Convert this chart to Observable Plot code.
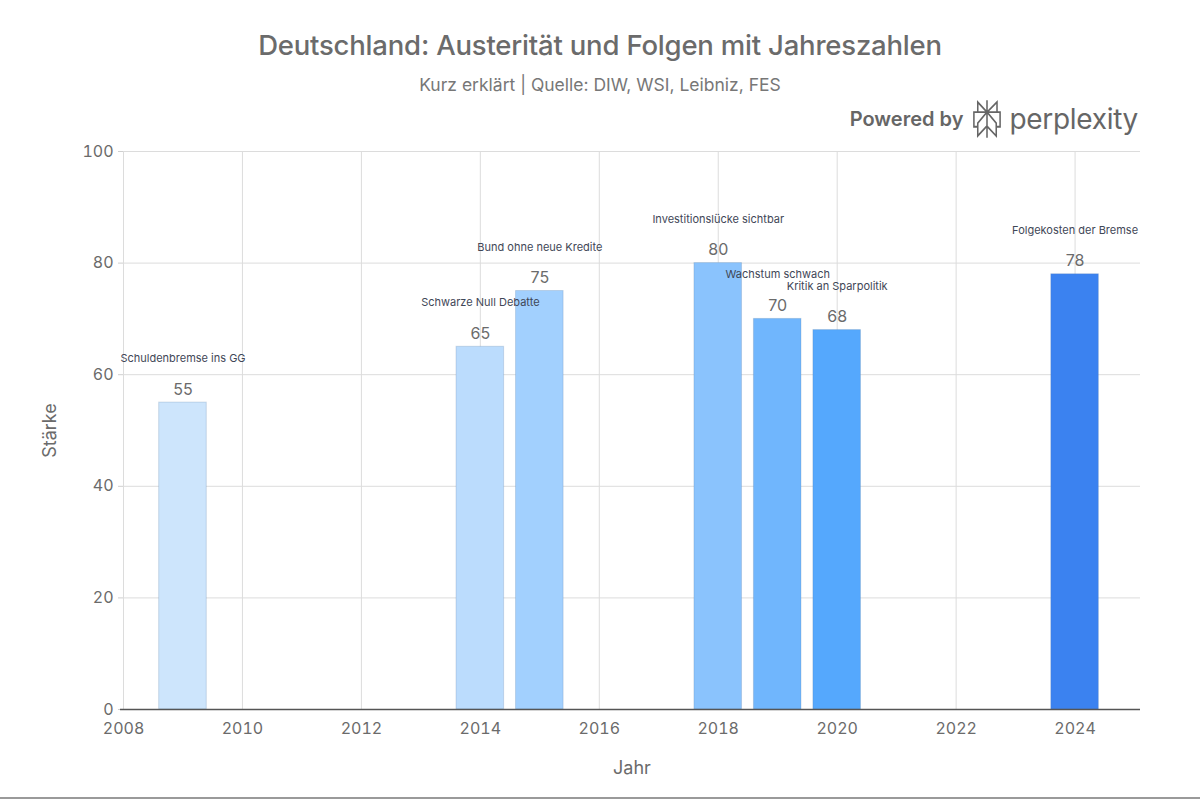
<!DOCTYPE html>
<html><head><meta charset="utf-8">
<script src="https://cdn.jsdelivr.net/npm/d3@7"></script>
<script src="https://cdn.jsdelivr.net/npm/@observablehq/plot@0.6"></script>
<style>
html,body{margin:0;padding:0;background:#fff;}
body{font-family:Inter,"Liberation Sans",sans-serif;}
#wrap{position:relative;width:1200px;height:800px;overflow:hidden;}
#chart{position:absolute;left:0;top:0;}
#title{position:absolute;top:28px;left:0;width:1200px;text-align:center;font-size:27.5px;font-weight:500;color:#6b6b6b;letter-spacing:-0.2px;}
#subtitle{position:absolute;top:74px;left:0;width:1200px;text-align:center;font-size:17.5px;color:#777;}
#powered{position:absolute;top:100px;right:62px;display:flex;align-items:center;color:#666;}
#powered .pb{font-size:20px;font-weight:600;margin-right:8px;}
#powered .px{font-size:28px;font-weight:400;margin-left:6px;letter-spacing:-0.3px;}
#bottomline{position:absolute;left:0;top:797px;width:1200px;height:2px;background:#9a9a9a;}
</style>
</head><body>
<div id="wrap">
  <div id="chart"></div>
  <div id="title">Deutschland: Austerität und Folgen mit Jahreszahlen</div>
  <div id="subtitle">Kurz erklärt | Quelle: DIW, WSI, Leibniz, FES</div>
  <div id="powered"><span class="pb">Powered by</span>
    <svg width="32" height="38" viewBox="0 0 24 24" preserveAspectRatio="none"><path fill="#666" d="M22.3977 7.0896h-2.3106V.0676l-7.5094 6.3542V.1577h-1.1554v6.1966L4.4904 0v7.0896H1.6023v10.3976h2.8882V24l6.932-6.3591v6.2005h1.1554v-6.0469l6.9318 6.1807v-6.4879h2.8882V7.0896zm-3.4657-4.531v4.531h-5.355l5.355-4.531zm-13.2862.0676 4.8691 4.4634H5.6458V2.6262zM2.7576 16.332V8.245h7.8476l-6.1149 6.1147v1.9723H2.7576zm2.8882 5.0404v-3.8852h.0001v-2.6488l5.7763-5.7764v7.0111l-5.7764 5.2993zm12.7086.0248-5.7766-5.1509V9.0618l5.7766 5.7766v6.5588zm2.8882-5.0652h-1.733v-1.9723L13.3948 8.245h7.8478v8.087z"/></svg>
    <span class="px">perplexity</span></div>
  <div id="bottomline"></div>
</div>
<script>
const years = [2009, 2014, 2015, 2018, 2019, 2020, 2024];
const values = [55, 65, 75, 80, 70, 68, 78];
const events = ["Schuldenbremse ins GG", "Schwarze Null Debatte", "Bund ohne neue Kredite", "Investitionslücke sichtbar", "Wachstum schwach", "Kritik an Sparpolitik", "Folgekosten der Bremse"];
const barColors = ["#cde5fc", "#bbdcfd", "#a2d0fe", "#8ac3fd", "#70b6fd", "#55a8fd", "#3b82f0"];
const xTicks = [2008, 2010, 2012, 2014, 2016, 2018, 2020, 2022, 2024];
const yTicks = [0, 20, 40, 60, 80, 100];

const data = years.map((y, i) => ({year: y, value: values[i], event: events[i], color: barColors[i]}));
const half = 0.4;

const chart = Plot.plot({
  width: 1200,
  height: 800,
  marginTop: 151,
  marginBottom: 91,
  marginLeft: 123,
  marginRight: 60,
  style: {fontFamily: "Inter, 'Liberation Sans', sans-serif", background: "transparent", overflow: "visible"},
  x: {domain: [2008, 2025.1]},
  y: {domain: [0, 100]},
  color: {type: "identity"},
  marks: [
    Plot.gridX(xTicks, {stroke: "#dcdcdc", strokeOpacity: 1}),
    Plot.gridY(yTicks.slice(1), {stroke: "#dcdcdc", strokeOpacity: 1}),
    Plot.axisY(yTicks, {tickSize: 5, tickPadding: 5, fontSize: 16, fill: "#6b6b6b", stroke: "#cfcfcf",
      label: "Stärke", labelAnchor: "center", labelOffset: 80, labelArrow: "none", tickFormat: d => String(d)}),
    Plot.axisX(xTicks, {tickSize: 0, tickPadding: 13, fontSize: 16, fill: "#6b6b6b",
      label: "Jahr", labelAnchor: "center", labelOffset: 64, labelArrow: "none", tickFormat: d => String(d)}),
    Plot.rectY(data, {x1: d => d.year - half, x2: d => d.year + half, y: "value", fill: "color",
      stroke: "#5a7fa8", strokeOpacity: 0.25, strokeWidth: 1}),
    Plot.ruleY([0], {stroke: "#555", strokeWidth: 1.5, x1: 2007.95, x2: 2025.1}),
    Plot.text(data, {x: "year", y: "value", text: d => String(d.value), dy: -13, fontSize: 16, fill: "#6b6b6b"}),
    Plot.text(data, {x: "year", y: "value", text: "event", dy: -44, fontSize: 11, fill: "#3f4757"})
  ]
});
document.getElementById("chart").appendChild(chart);
chart.querySelectorAll("g[aria-label='y-axis label'] text, g[aria-label='x-axis label'] text").forEach(t => {
  t.setAttribute("font-size", "18"); t.setAttribute("fill", "#6b6b6b");
});
</script>
</body></html>
